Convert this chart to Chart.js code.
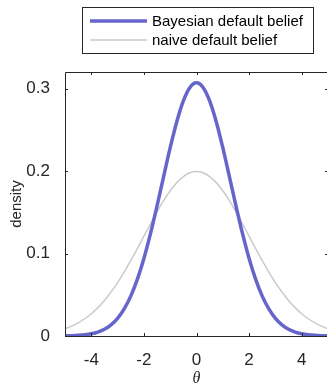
<!DOCTYPE html>
<html>
<head>
<meta charset="utf-8">
<script src="https://cdn.jsdelivr.net/npm/chart.js@4"></script>
<style>
html,body{margin:0;padding:0;background:#fff;overflow:hidden;width:327px;height:386px;}
#wrap{width:332px;height:386px;position:relative;}
</style>
</head>
<body>
<div id="wrap"><canvas id="c"></canvas></div>
<script>
const thetaValues = [-5,-4.75,-4.5,-4.25,-4,-3.75,-3.5,-3.25,-3,-2.75,-2.5,-2.25,-2,-1.75,-1.5,-1.25,-1,-0.75,-0.5,-0.25,0,0.25,0.5,0.75,1,1.25,1.5,1.75,2,2.25,2.5,2.75,3,3.25,3.5,3.75,4,4.25,4.5,4.75,5];
const bayesianDensity = [0.0002,0.0004,0.0008,0.0015,0.0027,0.0048,0.0082,0.0135,0.0214,0.0328,0.0483,0.0686,0.0940,0.1240,0.1577,0.1933,0.2283,0.2598,0.2850,0.3013,0.3069,0.3013,0.2850,0.2598,0.2283,0.1933,0.1577,0.1240,0.0940,0.0686,0.0483,0.0328,0.0214,0.0135,0.0082,0.0048,0.0027,0.0015,0.0008,0.0004,0.0002];
const naiveDensity = [0.0088,0.0119,0.0159,0.0209,0.0270,0.0344,0.0431,0.0533,0.0648,0.0775,0.0913,0.1059,0.1210,0.1360,0.1506,0.1641,0.1760,0.1859,0.1933,0.1979,0.1995,0.1979,0.1933,0.1859,0.1760,0.1641,0.1506,0.1360,0.1210,0.1059,0.0913,0.0775,0.0648,0.0533,0.0431,0.0344,0.0270,0.0209,0.0159,0.0119,0.0088];
const seriesLabels = ['Bayesian default belief','naive default belief'];
const xTicks = [-4,-2,0,2,4];
const yTicks = [0,0.1,0.2,0.3];
const yTickLabels = ['0','0.1','0.2','0.3'];

const AX = '#262626';
const FONT = '"Liberation Sans", Arial, Helvetica, sans-serif';

const boxPlugin = {
  id:'box',
  afterDatasetsDraw(chart){
    const ctx = chart.ctx, a = chart.chartArea;
    const xs = chart.scales.x, ys = chart.scales.y;
    ctx.save();
    ctx.strokeStyle = AX; ctx.lineWidth = 1;
    ctx.beginPath();
    ctx.moveTo(a.left+0.5, a.bottom+0.5); ctx.lineTo(a.left+0.5, a.top+0.5); ctx.lineTo(a.right+0.5, a.top+0.5); ctx.lineTo(a.right+0.5, a.bottom+0.5); ctx.closePath();
    ctx.stroke();
    const tl = 3;
    ctx.beginPath();
    xTicks.forEach(v=>{
      const px = Math.round(xs.getPixelForValue(v))+0.5;
      ctx.moveTo(px, a.bottom); ctx.lineTo(px, a.bottom-tl);
      ctx.moveTo(px, a.top); ctx.lineTo(px, a.top+tl);
    });
    yTicks.forEach(v=>{
      const py = Math.round(ys.getPixelForValue(v))+0.5;
      ctx.moveTo(a.left, py); ctx.lineTo(a.left+tl, py);
      ctx.moveTo(a.right, py); ctx.lineTo(a.right-tl, py);
    });
    ctx.stroke();
    // legend
    const lx=82.5, ly=7.5, lw=231, lh=46;
    ctx.fillStyle='#fff'; ctx.fillRect(lx,ly,lw,lh);
    ctx.strokeStyle=AX; ctx.lineWidth=1; ctx.strokeRect(lx,ly,lw,lh);
    const rows=[21,40];
    chart.data.datasets.forEach((ds,i)=>{
      ctx.strokeStyle=ds.borderColor; ctx.lineWidth=ds.borderWidth;
      ctx.beginPath(); ctx.moveTo(90,rows[i]); ctx.lineTo(147,rows[i]); ctx.stroke();
      ctx.fillStyle='#000'; ctx.font='15px '+FONT; ctx.textBaseline='middle'; ctx.textAlign='left';
      ctx.fillText(ds.label,152,rows[i]+1);
    });
    ctx.restore();
  }
};

new Chart(document.getElementById('c'),{
  type:'line',
  data:{
    datasets:[
      {label:seriesLabels[0], data:thetaValues.map((x,i)=>({x:x,y:bayesianDensity[i]})), borderColor:'#6565cc', borderWidth:3.5, pointRadius:0, tension:0.3, fill:false, order:0},
      {label:seriesLabels[1], data:thetaValues.map((x,i)=>({x:x,y:naiveDensity[i]})), borderColor:'#cbcbcb', borderWidth:1.5, pointRadius:0, tension:0.3, fill:false, order:1}
    ]
  },
  options:{
    responsive:true, maintainAspectRatio:false, animation:false,
    layout:{padding:{top:72,left:0,right:4,bottom:0}},
    plugins:{legend:{display:false}, tooltip:{enabled:false}},
    scales:{
      x:{type:'linear', min:-5, max:5,
        afterBuildTicks(s){s.ticks = xTicks.map(v=>({value:v}));},
        afterFit(s){s.height=50;},
        grid:{display:false}, border:{display:false},
        ticks:{color:AX, font:{family:FONT,size:17}, padding:6, maxRotation:0, autoSkip:false},
        title:{display:true, text:'θ', color:AX, font:{family:'"Liberation Serif", "DejaVu Serif", serif', size:16, style:'italic'}, padding:{top:0,bottom:-2}}
      },
      y:{type:'linear', min:0, max:0.32,
        afterBuildTicks(s){s.ticks = yTicks.map(v=>({value:v}));},
        afterFit(s){s.width=65;},
        grid:{display:false}, border:{display:false},
        ticks:{color:AX, font:{family:FONT,size:17}, padding:7, callback:(v)=>yTickLabels[yTicks.indexOf(v)] ?? ''},
        title:{display:true, text:'density', color:AX, font:{family:FONT,size:15}, padding:{top:8,bottom:0}}
      }
    }
  },
  plugins:[boxPlugin]
});
</script>
</body>
</html>
